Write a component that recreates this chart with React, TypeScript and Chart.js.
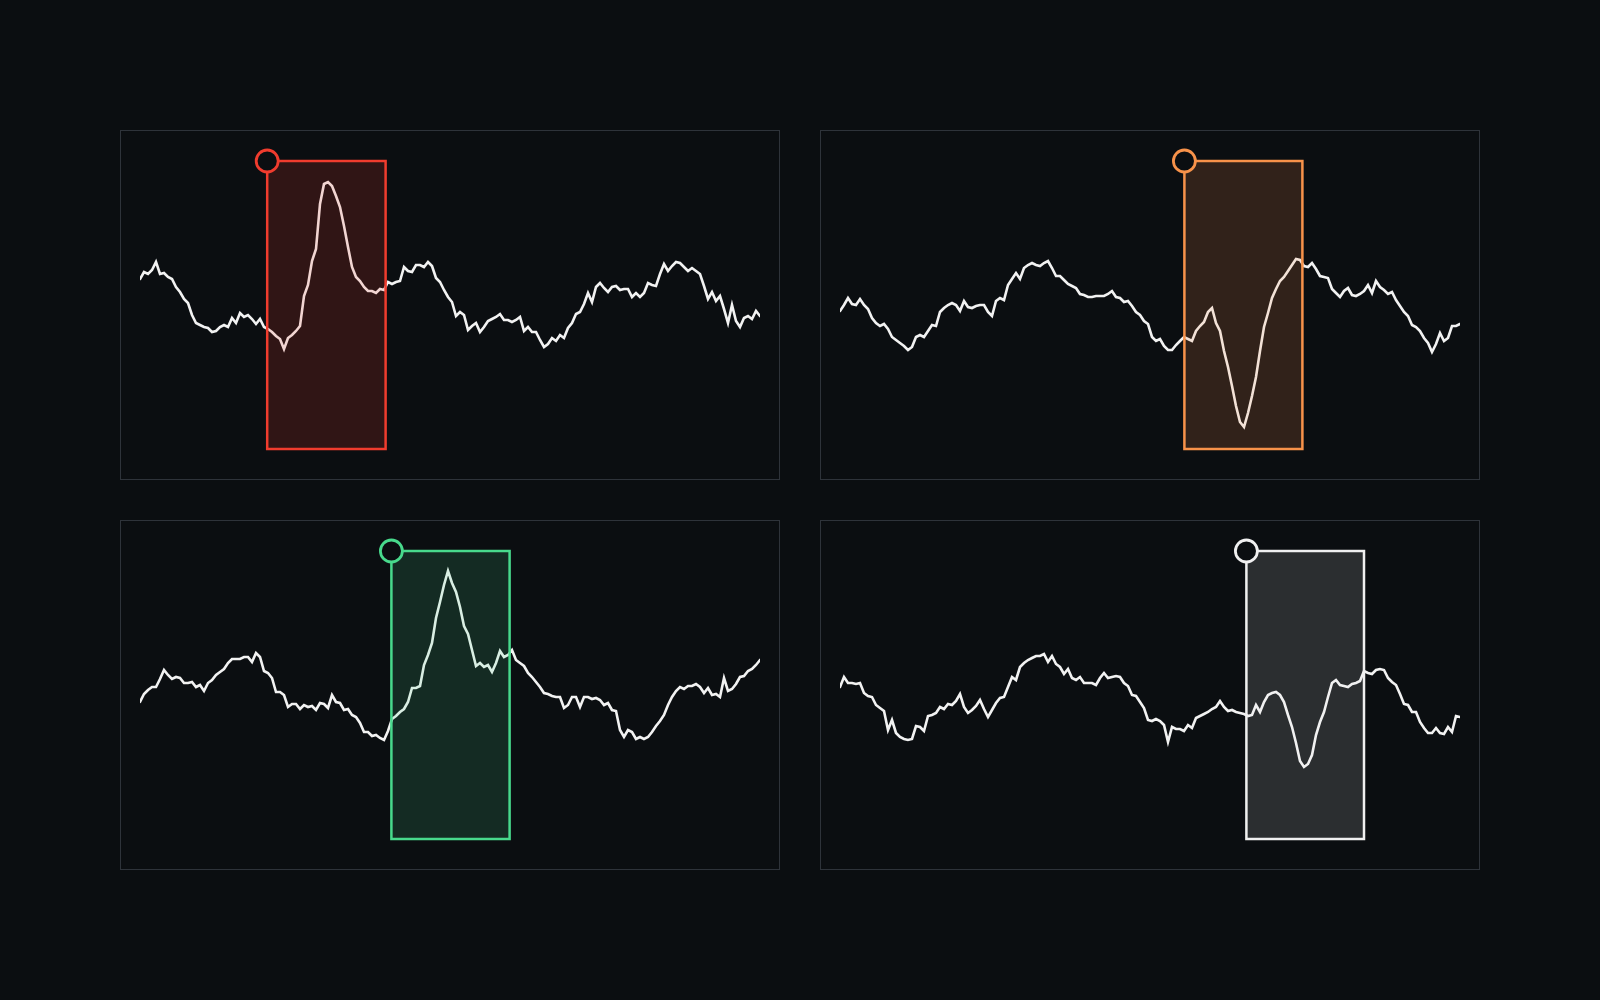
import React, { useEffect, useRef } from "react";
import { Chart, registerables } from "chart.js";

Chart.register(...registerables);

// ---- data (signal level, arbitrary units; 156 samples per panel) ----
const SAMPLE_INDEX = Array.from({ length: 156 }, (_, i) => i);

const SERIES_RED = [
  170,177,175,179,187,175,176,172,170,162,
  157,150,146,134,126,124,122,121,117,118,
  122,124,122,131,126,136,132,134,130,125,
  130,122,120,117,113,110,100,111,114,118,
  123,153,164,188,200,245,265,267,263,253,
  242,223,202,182,172,168,162,158,158,156,
  160,159,167,165,167,168,182,178,177,184,
  184,182,187,183,171,167,159,152,147,133,
  137,134,119,123,126,117,122,128,130,132,
  135,129,129,127,129,132,118,122,117,117,
  109,102,105,111,108,114,111,121,126,135,
  137,145,156,147,162,166,161,157,162,163,
  159,160,160,152,156,152,156,166,164,163,
  175,185,178,183,187,186,182,178,181,178,
  175,163,150,157,148,153,140,126,144,128,
  122,131,133,130,138,133,
];

const SERIES_ORANGE = [
  138,144,151,145,144,150,144,140,131,126,
  123,125,120,112,109,106,103,99,102,112,
  114,112,118,124,123,137,141,144,146,144,
  138,148,142,141,143,144,144,137,133,148,
  151,149,164,170,176,170,181,184,186,184,
  183,186,188,181,173,173,169,165,163,161,
  155,154,152,152,153,153,153,155,158,152,
  151,147,148,143,137,134,128,125,112,108,
  110,103,99,99,104,108,112,110,108,118,
  123,127,137,141,126,118,98,82,63,43,
  27,22,36,53,72,98,122,136,151,160,
  168,172,178,184,190,189,183,182,186,180,
  173,172,171,160,156,152,158,161,154,153,
  155,158,164,156,168,162,159,155,157,149,
  143,137,133,124,122,118,111,106,97,105,
  116,108,111,123,123,125,
];

const SERIES_GREEN = [
  137,145,149,152,152,160,169,164,160,162,
  161,156,156,157,152,154,148,156,159,164,
  167,170,176,180,180,180,182,182,177,186,
  182,168,166,161,147,147,144,132,135,135,
  130,134,132,133,129,136,135,131,144,137,
  136,129,130,124,122,116,107,107,103,104,
  101,99,108,120,123,127,130,137,151,151,
  153,174,184,196,221,237,254,268,256,247,
  232,213,205,189,173,176,172,174,167,176,
  188,182,184,189,179,176,173,166,162,157,
  152,146,145,143,142,142,131,134,142,142,
  132,142,142,140,141,139,134,136,129,128,
  109,102,109,107,100,102,100,102,107,113,
  118,124,134,142,148,152,150,153,153,155,
  152,146,151,144,145,142,161,148,150,155,
  162,163,168,170,174,179,
];

const SERIES_WHITE = [
  152,162,156,156,155,156,146,143,142,134,
  131,128,109,119,106,102,100,99,100,113,
  112,108,123,124,126,132,130,135,134,138,
  145,132,126,129,133,139,130,122,129,136,
  141,142,152,162,159,172,176,179,181,183,
  183,185,177,183,175,172,165,170,161,159,
  162,156,156,156,154,161,166,161,162,163,
  162,156,153,144,143,137,131,119,118,120,
  118,114,97,112,110,110,108,114,111,121,
  123,125,127,130,132,138,132,128,129,127,
  126,125,123,124,134,127,137,144,146,147,
  144,137,124,112,96,78,72,75,84,104,
  117,127,142,156,159,154,153,152,155,156,
  158,168,166,165,169,170,169,161,157,154,
  145,135,134,127,127,117,111,106,106,111,
  106,105,112,107,123,122,
];

// highlighted windows, in sample-index units [start, end]
const WINDOW_RED = [31.8, 61.4];
const WINDOW_ORANGE = [86.1, 115.6];
const WINDOW_GREEN = [62.85, 92.4];
const WINDOW_WHITE = [101.6, 131.0];

const Y_RANGE = [0, 288];

const BG = "#0b0e11";
const PANEL_BORDER = "#2e333a";
const LINE_COLOR = "#f2f2f2";
const RED = "#f03c2e";
const ORANGE = "#f7924a";
const GREEN = "#48d98c";
const WHITE = "#f0f0f0";

function hexToRgba(hex: string, a: number) {
  const n = parseInt(hex.slice(1), 16);
  return `rgba(${(n >> 16) & 255},${(n >> 8) & 255},${n & 255},${a})`;
}

const highlightPlugin = {
  id: "highlightWindow",
  afterDatasetsDraw(chart: any, _args: any, opts: any) {
    const { ctx, scales } = chart;
    const x0 = scales.x.getPixelForValue(opts.range[0]);
    const x1 = scales.x.getPixelForValue(opts.range[1]);
    const yTop = scales.y.getPixelForValue(Y_RANGE[1]);
    const yBot = scales.y.getPixelForValue(Y_RANGE[0]);
    ctx.save();
    ctx.fillStyle = hexToRgba(opts.color, opts.alpha);
    ctx.fillRect(x0, yTop, x1 - x0, yBot - yTop);
    ctx.lineWidth = 2.5;
    ctx.strokeStyle = opts.color;
    ctx.strokeRect(x0, yTop, x1 - x0, yBot - yTop);
    ctx.beginPath();
    ctx.arc(x0, yTop, 11, 0, Math.PI * 2);
    ctx.fillStyle = BG;
    ctx.fill();
    ctx.lineWidth = 2.8;
    ctx.stroke();
    ctx.restore();
  },
};

function Panel(props: { values: number[]; range: number[]; color: string; alpha: number; left: number; top: number }) {
  const ref = useRef<HTMLCanvasElement | null>(null);
  useEffect(() => {
    const chart = new Chart(ref.current as HTMLCanvasElement, {
      type: "line",
      data: {
        datasets: [
          {
            data: SAMPLE_INDEX.map((i) => ({ x: i, y: props.values[i] })),
            borderColor: LINE_COLOR,
            borderWidth: 2.6,
            pointRadius: 0,
            tension: 0,
            fill: false,
            borderJoinStyle: "miter",
            borderCapStyle: "round",
          },
        ],
      },
      options: {
        animation: false,
        responsive: false,
        devicePixelRatio: 1,
        layout: { padding: { left: 19, right: 19, top: 30, bottom: 30 } },
        scales: {
          x: { type: "linear", display: false, min: 0, max: SAMPLE_INDEX.length - 1 },
          y: { type: "linear", display: false, min: Y_RANGE[0], max: Y_RANGE[1] },
        },
        plugins: {
          legend: { display: false },
          tooltip: { enabled: false },
          highlightWindow: { range: props.range, color: props.color, alpha: props.alpha },
        } as any,
      },
      plugins: [highlightPlugin],
    } as any);
    return () => chart.destroy();
  }, []);
  return (
    <div
      style={{
        position: "absolute",
        left: props.left,
        top: props.top,
        width: 660,
        height: 350,
        boxSizing: "border-box",
        border: `1px solid ${PANEL_BORDER}`,
        background: BG,
      }}
    >
      <canvas ref={ref} width={658} height={348} style={{ display: "block", width: 658, height: 348 }} />
    </div>
  );
}

export default function App() {
  return (
    <div style={{ position: "fixed", left: 0, top: 0, width: 1600, height: 1000, background: BG, overflow: "hidden" }}>
      <Panel values={SERIES_RED} range={WINDOW_RED} color={RED} alpha={0.16} left={120} top={130} />
      <Panel values={SERIES_ORANGE} range={WINDOW_ORANGE} color={ORANGE} alpha={0.16} left={820} top={130} />
      <Panel values={SERIES_GREEN} range={WINDOW_GREEN} color={GREEN} alpha={0.15} left={120} top={520} />
      <Panel values={SERIES_WHITE} range={WINDOW_WHITE} color={WHITE} alpha={0.14} left={820} top={520} />
    </div>
  );
}
